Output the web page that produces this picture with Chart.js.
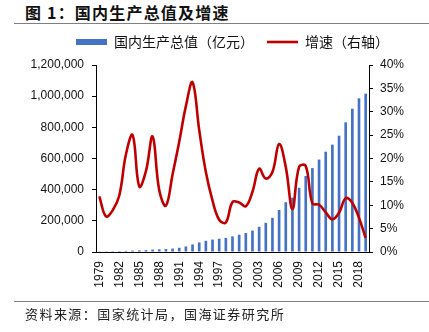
<!DOCTYPE html>
<html><head><meta charset="utf-8">
<script src="https://cdn.jsdelivr.net/npm/chart.js@4"></script>
<style>
html,body{margin:0;padding:0;background:#fff;width:429px;height:332px;overflow:hidden;}
body{position:relative;font-family:"Noto Sans CJK SC",sans-serif;}
#title{position:absolute;left:25px;top:2px;font-size:16px;font-weight:bold;color:#111;letter-spacing:1.2px;line-height:20px;white-space:nowrap;z-index:2;}
#tline{position:absolute;left:14px;width:415px;top:23px;border-top:1.5px solid #7f7f7f;z-index:2;}
#wrap{position:absolute;left:0;top:28px;width:429px;height:304px;z-index:1;}
#bline{position:absolute;left:14px;width:415px;top:301px;border-top:1.5px solid #7f7f7f;z-index:2;}
#src{position:absolute;left:25px;top:305px;font-size:13px;color:#222;letter-spacing:1.45px;line-height:18px;white-space:nowrap;z-index:2;}
</style></head>
<body>
<div id="title">图 1：国内生产总值及增速</div>
<div id="tline"></div>
<div id="wrap"><canvas id="c" width="429" height="304"></canvas></div>
<div id="bline"></div>
<div id="src">资料来源：国家统计局，国海证券研究所</div>
<script>
const years = ['1979','1980','1981','1982','1983','1984','1985','1986','1987','1988','1989','1990','1991','1992','1993','1994','1995','1996','1997','1998','1999','2000','2001','2002','2003','2004','2005','2006','2007','2008','2009','2010','2011','2012','2013','2014','2015','2016','2017','2018','2019'];
const xTickLabels = ['1979','1982','1985','1988','1991','1994','1997','2000','2003','2006','2009','2012','2015','2018'];
const gdp = [4588,4936,5373,6021,7279,9099,10376,12175,15180,17180,18873,22006,27195,35673,48638,61340,71814,79715,85196,90564,100280,110863,121717,137422,161840,187319,219439,270092,319245,348518,412119,487940,538580,592963,643563,688858,746395,832036,919281,986515,1015986];
const growth = [11.9,7.6,8.9,12.1,20.9,25.0,14.0,17.3,24.7,13.2,9.9,16.6,23.6,31.2,36.3,26.1,17.1,11.0,6.9,6.3,10.7,10.6,9.8,12.9,17.8,15.7,17.1,23.1,18.2,9.2,18.2,18.4,10.4,10.1,8.5,7.0,8.4,11.5,10.5,7.3,3.0];
const seriesNames = ['国内生产总值（亿元）','增速（右轴）'];

const BLUE = '#4472C4', RED = '#C00000';
const tickFont = {family:'"Liberation Sans", Arial, sans-serif', size:12};

const legendShift = {
  id:'legendShift',
  afterLayout(chart){
    const lg = chart.legend, ca = chart.chartArea;
    if(!lg) return;
    const dx = (ca.left+ca.right)/2 - (lg.left+lg.right)/2;
    lg.left += dx; lg.right += dx;
    lg.top -= 6; lg.bottom -= 6;
  }
};

new Chart(document.getElementById('c'), {
  data: {
    labels: years,
    datasets: [
      {type:'bar', label:seriesNames[0], data:gdp, backgroundColor:BLUE, yAxisID:'y', order:2, barPercentage:0.4, categoryPercentage:1.0},
      {type:'line', label:seriesNames[1], data:growth, borderColor:RED, backgroundColor:RED, borderWidth:2.6, pointRadius:0, tension:0.4, yAxisID:'y1', order:1}
    ]
  },
  options: {
    responsive:false, animation:false, devicePixelRatio:1,
    layout:{padding:0},
    plugins:{
      tooltip:{enabled:false},
      legend:{
        position:'top', align:'center',
        labels:{
          usePointStyle:true, pointStyleWidth:31, boxWidth:31, boxHeight:6, padding:13,
          color:'#111', font:{family:'"Noto Sans CJK SC", sans-serif', size:14},
          generateLabels(chart){
            const items = Chart.defaults.plugins.legend.labels.generateLabels(chart);
            items.forEach(it=>{
              if(it.datasetIndex===0){ it.pointStyle='rect'; it.fillStyle=BLUE; it.strokeStyle=BLUE; it.lineWidth=0; }
              else { it.pointStyle='line'; it.strokeStyle=RED; it.fillStyle=RED; it.lineWidth=2.6; }
            });
            items.sort((a,b)=>a.datasetIndex-b.datasetIndex);
            return items;
          }
        }
      }
    },
    scales:{
      x:{
        offset:true,
        grid:{display:false, drawTicks:false},
        border:{display:true, color:'#000', width:1},
        ticks:{autoSkip:false, minRotation:90, maxRotation:90, padding:9, color:'#111', font:tickFont,
          callback(v){ const l = this.getLabelForValue(v); return xTickLabels.includes(l) ? l : ''; }},
        afterFit(s){ s.height = 80; }
      },
      y:{
        position:'left', min:0, max:1200000,
        grid:{drawOnChartArea:false, drawTicks:true, tickLength:4, color:'#000'},
        border:{display:true, color:'#000', width:1},
        ticks:{stepSize:200000, padding:8, color:'#111', font:tickFont, callback:v=>v.toLocaleString('en-US')},
        afterFit(s){ s.width = 96; }
      },
      y1:{
        position:'right', min:0, max:40,
        grid:{drawOnChartArea:false, drawTicks:true, tickLength:4, color:'#000'},
        border:{display:true, color:'#000', width:1},
        ticks:{stepSize:5, padding:7, color:'#111', font:tickFont, callback:v=>v+'%'},
        afterFit(s){ s.width = 60; }
      }
    }
  },
  plugins:[legendShift]
});
</script>
</body></html>
